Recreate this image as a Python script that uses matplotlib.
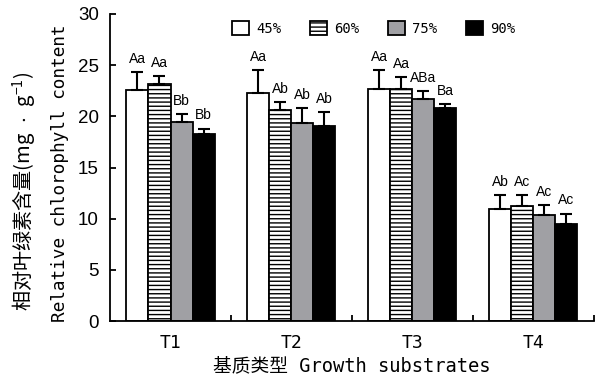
import numpy as np
import matplotlib.pyplot as plt

plt.rcParams['font.family'] = ['Liberation Sans', 'Noto Sans CJK SC']
plt.rcParams['hatch.linewidth'] = 1.0

groups = ["T1", "T2", "T3", "T4"]
levels = ["45%", "60%", "75%", "90%"]

mean_45 = [22.6, 22.3, 22.7, 10.95]
mean_60 = [23.2, 20.6, 22.7, 11.25]
mean_75 = [19.45, 19.35, 21.7, 10.4]
mean_90 = [18.3, 19.1, 20.8, 9.45]

err_45 = [1.7, 2.2, 1.8, 1.35]
err_60 = [0.7, 0.8, 1.1, 1.05]
err_75 = [0.75, 1.45, 0.8, 0.9]
err_90 = [0.5, 1.3, 0.4, 1.05]

sig_45 = ["Aa", "Aa", "Aa", "Ab"]
sig_60 = ["Aa", "Ab", "Aa", "Ac"]
sig_75 = ["Bb", "Ab", "ABa", "Ac"]
sig_90 = ["Bb", "Ab", "Ba", "Ac"]

means = [mean_45, mean_60, mean_75, mean_90]
errs = [err_45, err_60, err_75, err_90]
sigs = [sig_45, sig_60, sig_75, sig_90]
faces = ["white", "white", "#a0a0a4", "black"]
hatches = [None, "----", None, None]

fig = plt.figure(figsize=(5.98, 3.86), dpi=100)
ax = fig.add_axes([0.184, 0.168, 0.809, 0.796])

x = np.arange(len(groups))
w = 0.182
for i in range(4):
    pos = x + (i - 1.5) * w
    ax.bar(pos, means[i], w, color=faces[i], edgecolor="black", linewidth=1.3,
           hatch=hatches[i], label=levels[i], zorder=2)
    ax.errorbar(pos, means[i], yerr=[np.zeros(4), errs[i]], fmt="none",
                ecolor="black", elinewidth=1.5, capsize=4, capthick=1.5, zorder=3)
    for p, m, e, s in zip(pos, means[i], errs[i], sigs[i]):
        ax.text(p, m + e + 0.6, s, ha="center", va="bottom", fontsize=10,
                family=["Liberation Sans Narrow", "Liberation Sans"])

ax.set_xlim(-0.5, 3.5)
ax.set_ylim(0, 30)
ax.set_yticks(range(0, 31, 5))
ax.set_xticks(x)
ax.set_xticklabels(groups, fontsize=13, family=["DejaVu Sans Mono"])
ax.set_xticks([0.5, 1.5, 2.5, 3.5], minor=True)
ax.tick_params(axis="x", which="major", length=0, pad=9)
ax.tick_params(axis="x", which="minor", direction="in", length=4, width=1.3)
ax.tick_params(axis="y", direction="in", length=4, width=1.3, labelsize=13.5, pad=8)
for s in ["top", "right"]:
    ax.spines[s].set_visible(False)
for s in ["left", "bottom"]:
    ax.spines[s].set_linewidth(1.3)

ax.set_xlabel("基质类型 Growth substrates", fontsize=13.5,
              family=["DejaVu Sans Mono", "Noto Sans CJK SC"], labelpad=3)
fig.text(0.042, 0.503, "相对叶绿素含量$\\mathregular{(mg\\ \\cdot\\ g^{-1})}$", rotation=90,
         ha="center", va="center", fontsize=14.5,
         family=["Noto Sans CJK SC", "DejaVu Sans"])
fig.text(0.100, 0.55, "Relative chlorophyll content", rotation=90, ha="center",
         va="center", fontsize=12.8, family=["DejaVu Sans Mono"])

ax.legend(loc="center", bbox_to_anchor=(0.545, 0.953), ncol=4, frameon=False,
          handlelength=1.2, handleheight=1.2, columnspacing=2.1,
          handletextpad=0.5, prop={"family": ["DejaVu Sans Mono"], "size": 10})

fig.savefig("out.png", dpi=100)
